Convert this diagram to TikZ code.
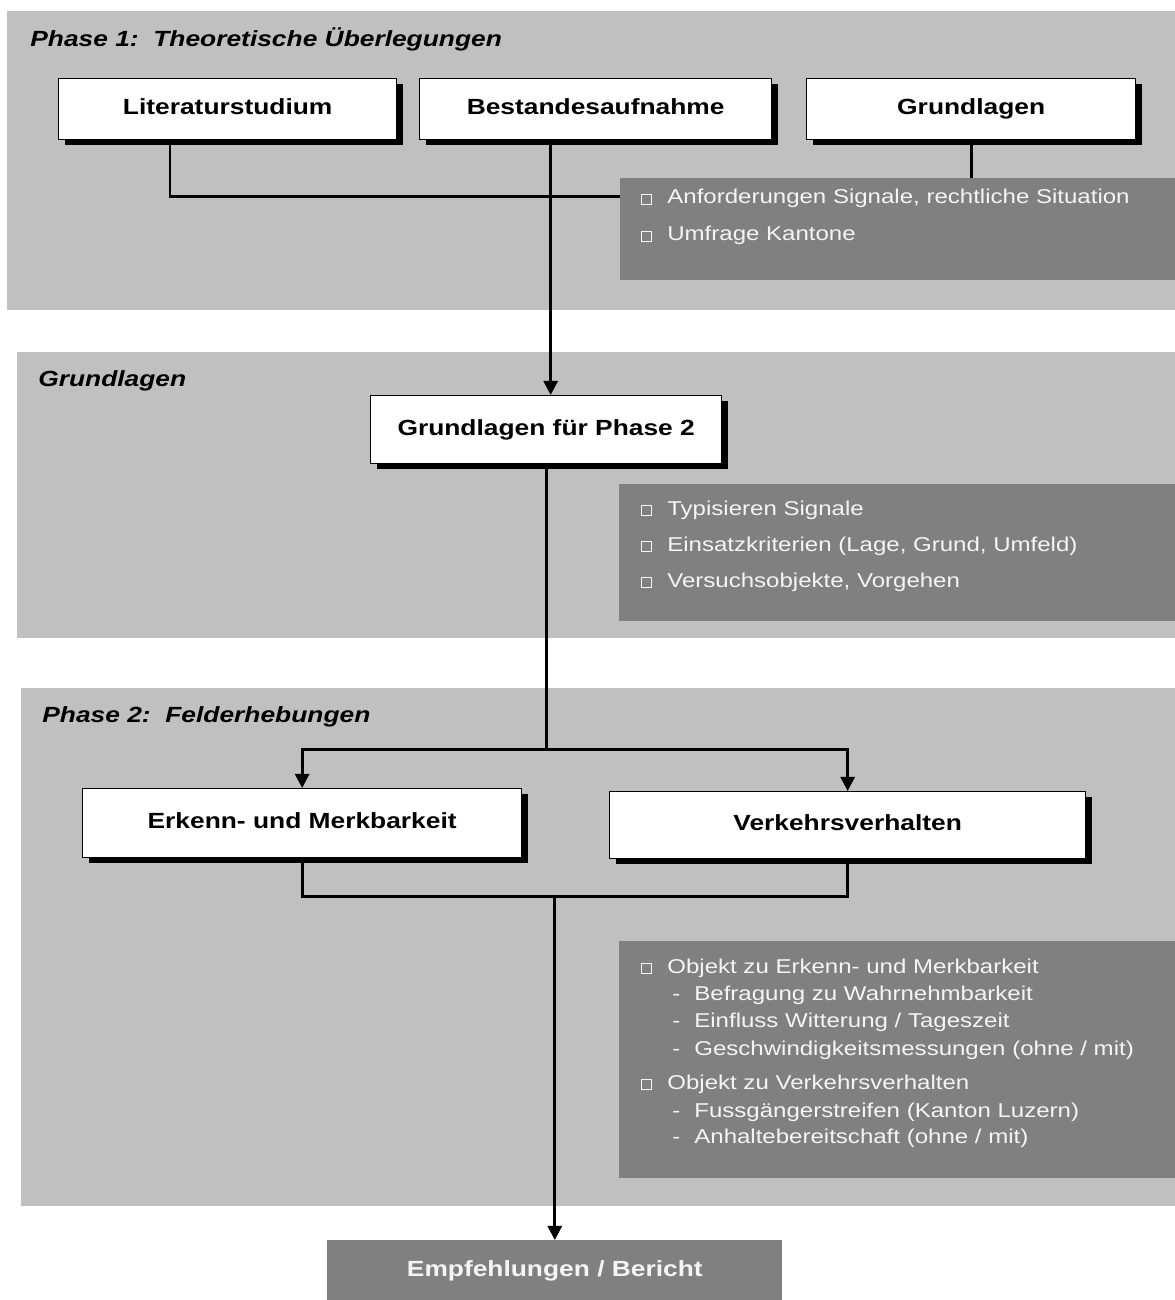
\documentclass[tikz,border=0pt]{standalone}
\usepackage{fontspec}
\setmainfont{Liberation Sans}[FakeStretch=1.2]
\usetikzlibrary{shadows, arrows.meta}
\definecolor{panelgray}{RGB}{192,192,192}
\definecolor{infogray}{RGB}{128,128,128}
\definecolor{infotext}{RGB}{245,245,245}
\tikzset{
  panel/.style={fill=panelgray},
  phasetitle/.style={anchor=base west, inner sep=0pt,
    font=\fontsize{12.5}{15}\selectfont\bfseries\itshape},
  stepbox/.style={draw=black, line width=0.8pt, fill=white, anchor=north west,
    font=\fontsize{12.5}{15}\selectfont\bfseries, text height=9pt, text depth=2.5pt,
    drop shadow={shadow xshift=0.12cm, shadow yshift=-0.1cm, fill=black, opacity=1}},
  resultbox/.style={fill=infogray, text=infotext, anchor=north west,
    font=\fontsize{12.5}{15}\selectfont\bfseries, text height=9pt, text depth=2.5pt},
  infobox/.style={fill=infogray, anchor=north west, inner sep=0pt},
  infoitem/.style={anchor=base west, inner sep=0pt, text=infotext,
    font=\fontsize{11.4}{14}\selectfont},
  infobullet/.style={draw=infotext, line width=0.45pt},
  conn/.style={line width=1.6pt},
  connarrow/.style={conn, -{Triangle[width=8pt,length=8pt]}}
}
\begin{document}
\begin{tikzpicture}[x=0.02cm, y=-0.02cm]
  \useasboundingbox (0,0) rectangle (1175,1300);
  % grey panels
  \fill[panel] (7,11) rectangle (1175,310);
  \fill[panel] (17,352) rectangle (1175,638);
  \fill[panel] (21,688) rectangle (1175,1206);
  \node[phasetitle] (title1) at (30,47) {Phase 1:\ \ Theoretische Überlegungen};
  \node[phasetitle] (title2) at (38,386) {Grundlagen};
  \node[phasetitle] (title3) at (42,722) {Phase 2:\ \ Felderhebungen};

  % steps
  \node[stepbox, minimum width=6.76cm, minimum height=1.22cm] (lit) at (58,78) {Literaturstudium};
  \node[stepbox, minimum width=7.04cm, minimum height=1.22cm] (best) at (419,78) {Bestandesaufnahme};
  \node[stepbox, minimum width=6.58cm, minimum height=1.22cm] (grund) at (806,78) {Grundlagen};
  \node[stepbox, minimum width=7.02cm, minimum height=1.36cm] (gfp2) at (370,395) {Grundlagen für Phase 2};
  \node[stepbox, minimum width=8.78cm, minimum height=1.38cm] (erk) at (82,788) {Erkenn- und Merkbarkeit};
  \node[stepbox, minimum width=9.52cm, minimum height=1.34cm] (verk) at (609,791) {Verkehrsverhalten};
  \node[resultbox, minimum width=9.1cm, minimum height=1.2cm] (empf) at (327,1240) {Empfehlungen / Bericht};

  % connectors
  \draw[conn] ([xshift=2.24cm]lit.south west) |- ([yshift=-1.12cm]grund.south) -- (grund.south);
  \draw[connarrow] ([xshift=-0.9cm]best.south) -- ([xshift=-0.9cm]best.south |- gfp2.north);
  \coordinate (split) at ([yshift=-5.7cm]gfp2.south);
  \draw[conn] (gfp2.south) -- (split);
  \draw[connarrow] (split) -| (erk.north);
  \draw[connarrow] (split) -| (verk.north);
  \coordinate (merge) at ([yshift=-0.74cm]verk.south);
  \draw[conn] (erk.south) |- (merge) -- (verk.south);
  \draw[connarrow] (merge -| empf.north) -- (empf.north);

  % info panels
  \node[infobox, minimum width=11.1cm, minimum height=2.04cm] (info1) at (620,178) {};
  \foreach \txt [count=\i] in {{Anforderungen Signale, rechtliche Situation}, {Umfrage Kantone}}{
    \pgfmathsetmacro\b{204+(\i-1)*37}
    \draw[infobullet] (641,{\b-9.5}) rectangle (651.5,\b);
    \node[infoitem] (anf\i) at (667,\b) {\txt};
  }
  \node[infobox, minimum width=11.12cm, minimum height=2.74cm] (info2) at (619,484) {};
  \foreach \txt [count=\i] in {{Typisieren Signale}, {Einsatzkriterien (Lage, Grund, Umfeld)}, {Versuchsobjekte, Vorgehen}}{
    \pgfmathsetmacro\b{515+(\i-1)*36}
    \draw[infobullet] (641,{\b-9.5}) rectangle (651.5,\b);
    \node[infoitem] (typ\i) at (667,\b) {\txt};
  }
  \node[infobox, minimum width=11.12cm, minimum height=4.74cm] (info3) at (619,941) {};
  \foreach \b/\txt [count=\i] in {973/{Objekt zu Erkenn- und Merkbarkeit}, 1089/{Objekt zu Verkehrsverhalten}}{
    \draw[infobullet] (641,{\b-9.5}) rectangle (651.5,\b);
    \node[infoitem] (obj\i) at (667,\b) {\txt};
  }
  \foreach \b/\txt [count=\i] in {1000/{Befragung zu Wahrnehmbarkeit}, 1027/{Einfluss Witterung / Tageszeit},
      1055/{Geschwindigkeitsmessungen (ohne / mit)}, 1117/{Fussgängerstreifen (Kanton Luzern)},
      1143/{Anhaltebereitschaft (ohne / mit)}}{
    \node[infoitem] (sub\i) at (672,\b) {\makebox[0.44cm][l]{-}\txt};
  }
\end{tikzpicture}
\end{document}
